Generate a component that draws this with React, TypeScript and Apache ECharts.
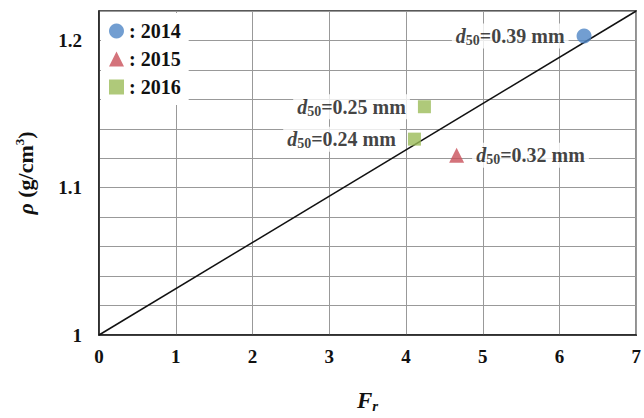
import React, { useEffect, useRef } from "react";
import * as echarts from "echarts";

const years = ["2014", "2015", "2016"];
const pts2014 = [[6.32, 1.203]];
const pts2015 = [[4.66, 1.122]];
const pts2016 = [[4.24, 1.155], [4.11, 1.133]];
const d50_2014 = ["0.39"];
const d50_2015 = ["0.32"];
const d50_2016 = ["0.25", "0.24"];
const fitLine = [[0, 1], [7, 1.22]];
const xTicks = [0, 1, 2, 3, 4, 5, 6, 7];

const FONT = "Liberation Serif";

const rich = {
  d: { fontFamily: FONT, fontStyle: "italic", fontWeight: "bold", fontSize: 20, color: "#111" },
  s: { fontFamily: FONT, fontWeight: "bold", fontSize: 14, color: "#111", verticalAlign: "bottom", padding: [9, 0, 0, 0] },
  t: { fontFamily: FONT, fontWeight: "bold", fontSize: 20, color: "#111" },
};

function mkData(pts: number[][], d50: string[], pos: string[]) {
  return pts.map((p, i) => ({
    value: p,
    label: {
      show: true,
      position: pos[i],
      distance: 8,
      formatter: `{d|d}{s|50}{t|=${d50[i]} mm}`,
      rich,
      backgroundColor: "#fff",
      padding: [1, 4, 1, 4],
    },
  }));
}

export default function App() {
  const ref = useRef<HTMLDivElement>(null);
  useEffect(() => {
    const chart = echarts.init(ref.current!, null, { renderer: "svg" });
    chart.setOption({
      animation: false,
      backgroundColor: "#fff",
      grid: { left: 99, right: 7, top: 11, bottom: 77, show: true, borderColor: "#222", borderWidth: 1.5 },
      legend: {
        data: [
          { name: years[0], icon: "circle" },
          { name: years[1], icon: "triangle" },
          { name: years[2], icon: "rect" },
        ],
        orient: "vertical",
        left: 101,
        top: 13,
        itemWidth: 15,
        itemHeight: 15,
        itemGap: 8,
        padding: [8, 8, 8, 8],
        backgroundColor: "#fff",
        formatter: (n: string) => ": " + n,
        textStyle: { fontFamily: FONT, fontWeight: "bold", fontSize: 20, color: "#111" },
      },
      xAxis: {
        type: "value",
        min: 0,
        max: 7,
        interval: 1,
        axisLine: { show: true, lineStyle: { color: "#222", width: 1.5 } },
        axisTick: { show: false },
        splitLine: { show: true, lineStyle: { color: "#999", width: 1 } },
        axisLabel: {
          margin: 12,
          fontFamily: FONT,
          fontWeight: "bold",
          fontSize: 19,
          color: "#111",
          formatter: (v: number) => (xTicks.includes(v) ? String(v) : ""),
        },
        name: "{i|F}{s|r}",
        nameLocation: "middle",
        nameGap: 52,
        nameTextStyle: {
          rich: {
            i: { fontFamily: FONT, fontStyle: "italic", fontWeight: "bold", fontSize: 23, color: "#111" },
            s: { fontFamily: FONT, fontStyle: "italic", fontWeight: "bold", fontSize: 15, color: "#111", verticalAlign: "bottom", padding: [11, 0, 0, 0] },
          },
        },
      },
      yAxis: {
        type: "value",
        min: 1,
        max: 1.22,
        interval: 0.02,
        axisLine: { show: true, lineStyle: { color: "#222", width: 1.5 } },
        axisTick: { show: false },
        splitLine: { show: true, lineStyle: { color: "#999", width: 1 } },
        axisLabel: {
          margin: 17,
          fontFamily: FONT,
          fontWeight: "bold",
          fontSize: 19,
          color: "#111",
          formatter: (v: number) => {
            const k = Math.round(v * 100);
            return k % 10 === 0 && k <= 120 ? String(k / 100) : "";
          },
        },
        name: "{i|ρ}{t| (g/cm}{p|3}{t|)}",
        nameLocation: "middle",
        nameGap: 62,
        nameTextStyle: {
          rich: {
            i: { fontFamily: FONT, fontStyle: "italic", fontWeight: "bold", fontSize: 22, color: "#111" },
            t: { fontFamily: FONT, fontWeight: "bold", fontSize: 22, color: "#111" },
            p: { fontFamily: FONT, fontWeight: "bold", fontSize: 13, color: "#111", verticalAlign: "top", padding: [0, 0, 11, 0] },
          },
        },
      },
      series: [
        {
          type: "line",
          data: fitLine,
          symbol: "none",
          lineStyle: { color: "#111", width: 1.5 },
          silent: true,
          z: 1,
        },
        {
          name: years[0],
          type: "scatter",
          symbol: "circle",
          symbolSize: 15,
          itemStyle: { color: "#4F86C6" },
          data: mkData(pts2014, d50_2014, ["left"]),
          z: 3,
        },
        {
          name: years[1],
          type: "scatter",
          symbol: "triangle",
          symbolSize: 15,
          itemStyle: { color: "#C9505A" },
          data: mkData(pts2015, d50_2015, ["right"]),
          z: 3,
        },
        {
          name: years[2],
          type: "scatter",
          symbol: "rect",
          symbolSize: 13,
          itemStyle: { color: "#9BBB59" },
          data: mkData(pts2016, d50_2016, ["left", "left"]),
          z: 3,
        },
      ],
    });
    return () => chart.dispose();
  }, []);
  return <div ref={ref} style={{ position: "absolute", left: 0, top: 0, width: 644, height: 418 }} />;
}
